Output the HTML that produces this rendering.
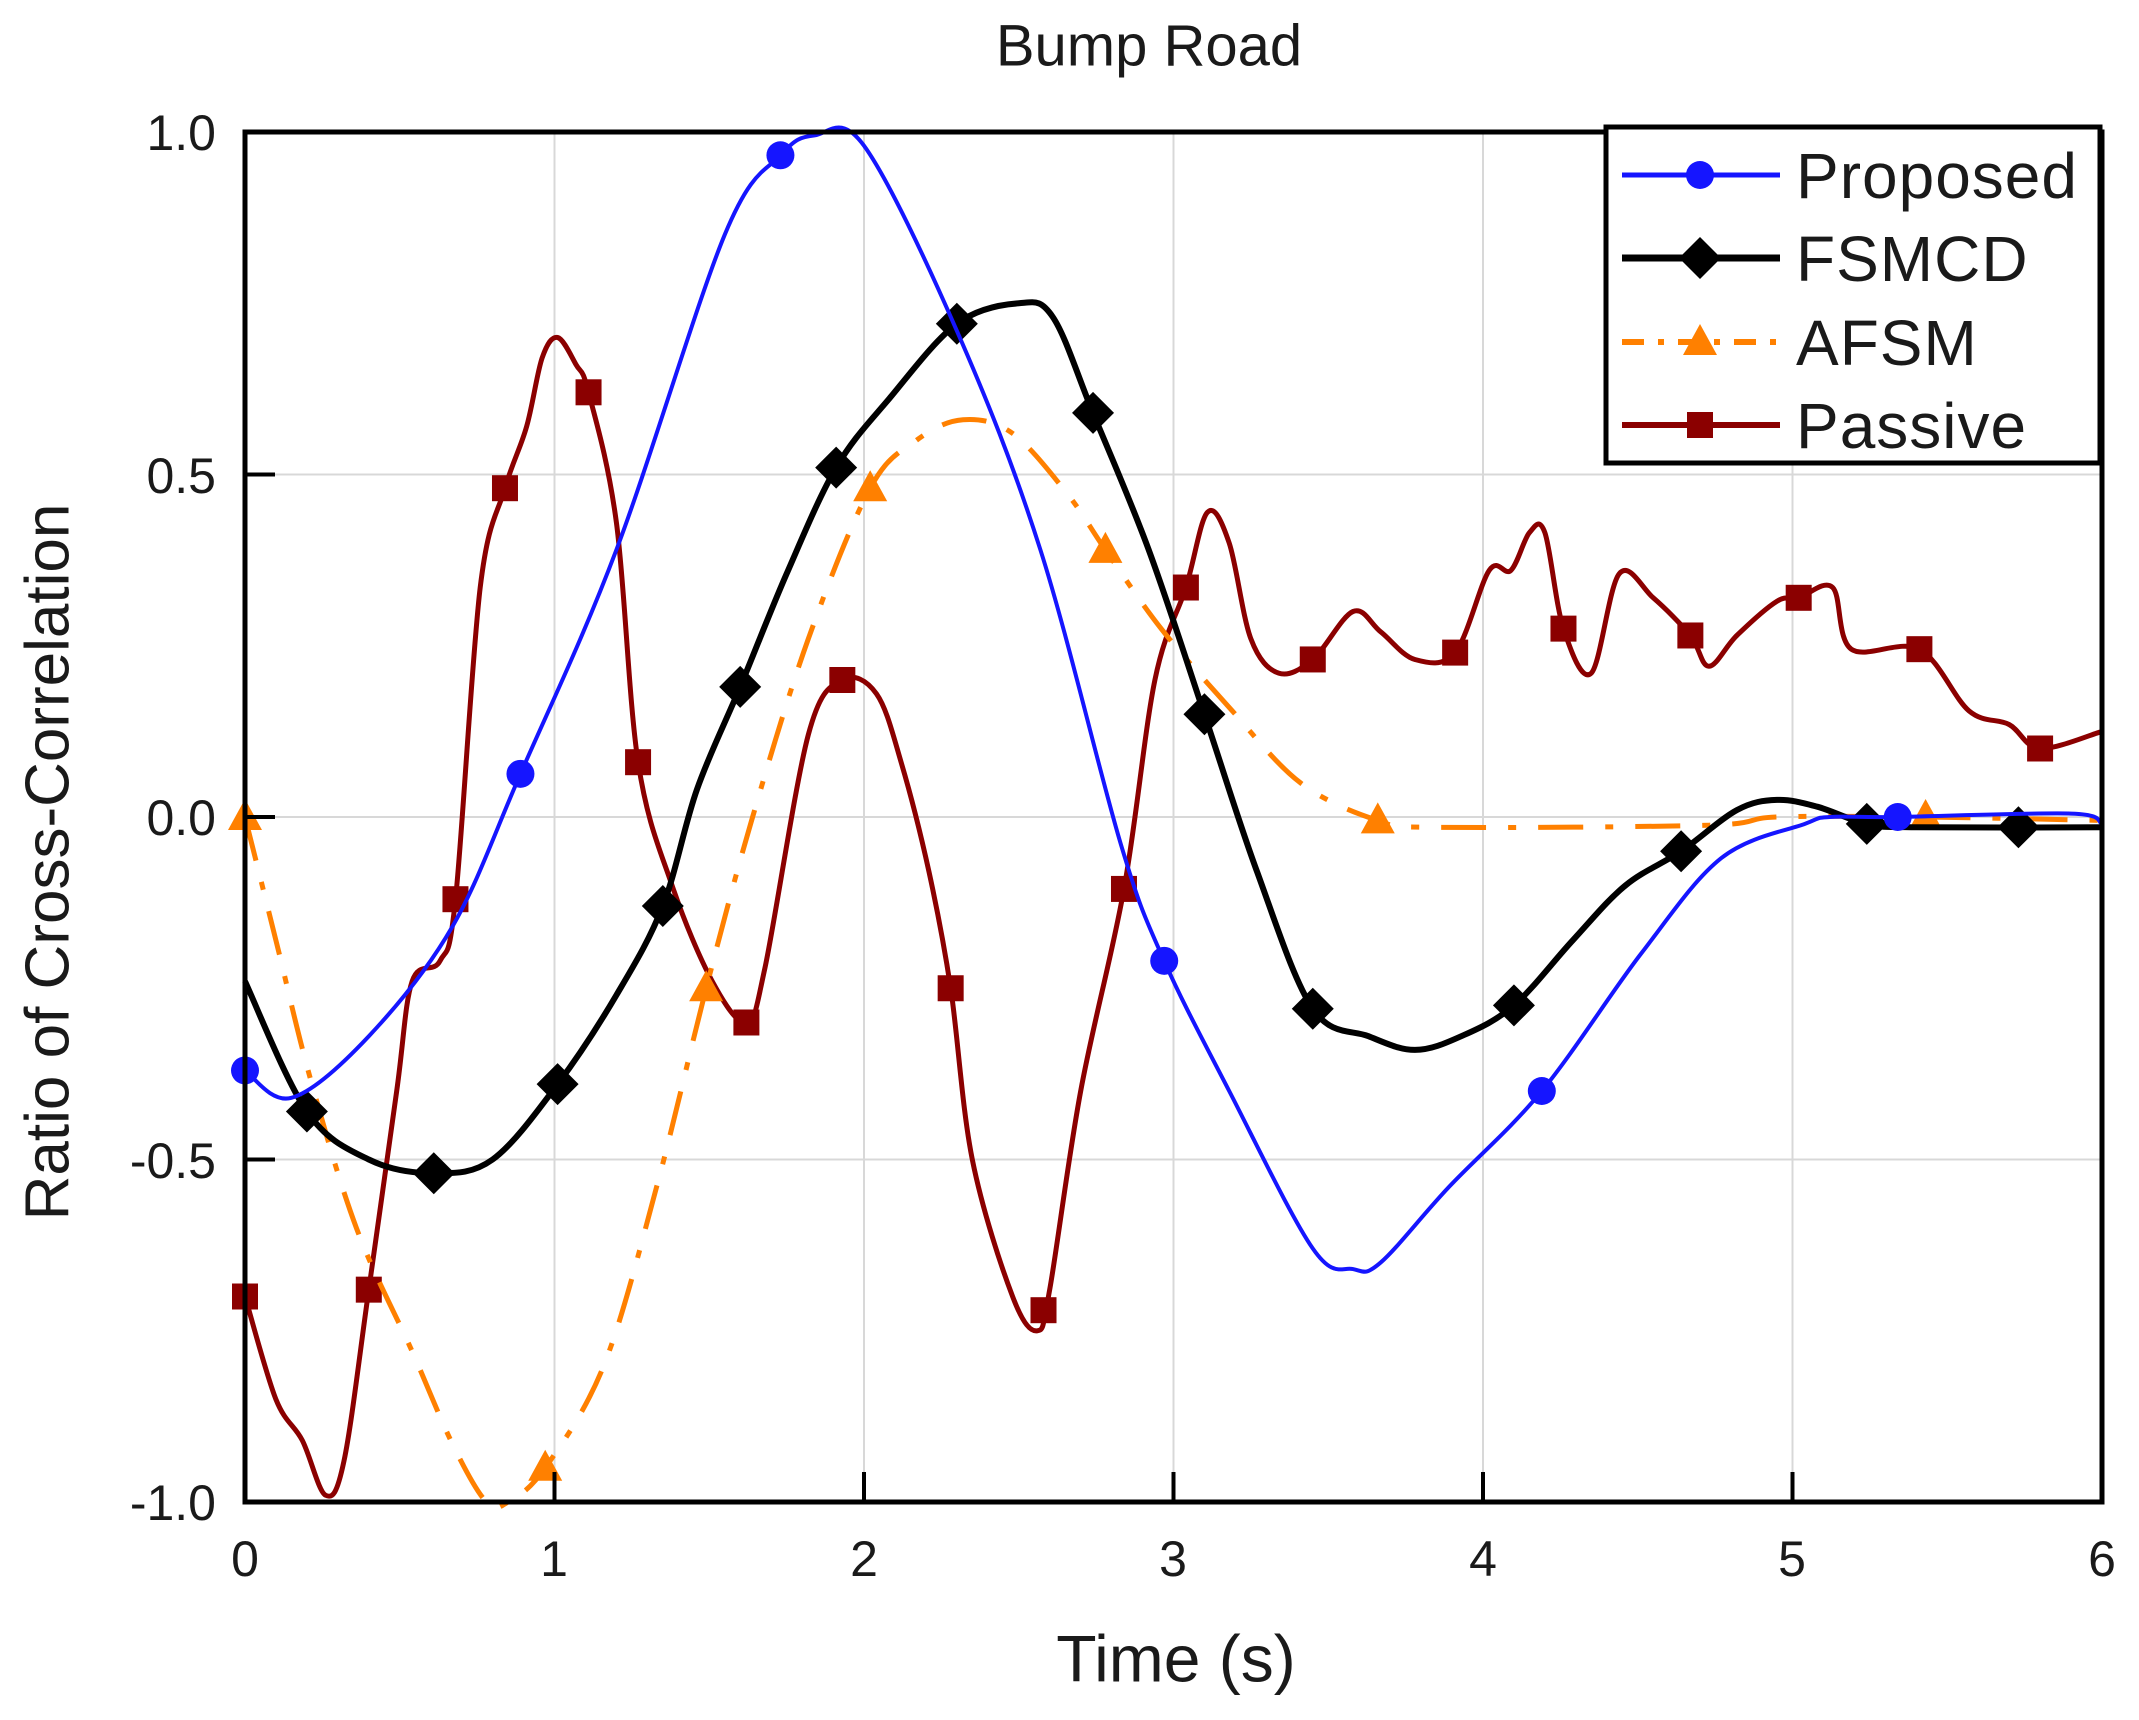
<!DOCTYPE html>
<html><head><meta charset="utf-8"><style>
html,body{margin:0;padding:0;background:#fff;}
svg{display:block;}
text{font-family:"Liberation Sans",Arial,sans-serif;fill:#1a1a1a;}
</style></head><body>
<svg id="c" width="2139" height="1720" viewBox="0 0 2139 1720" xmlns="http://www.w3.org/2000/svg">
<rect width="2139" height="1720" fill="#fff"/>
<g id="grid" stroke="#d8d8d8" stroke-width="2"></g>
<g id="series"></g>
<rect x="245" y="132" width="1857" height="1370" fill="none" stroke="#000" stroke-width="5"/>
<g id="ticks" stroke="#000" stroke-width="4"></g>
<text x="1149" y="50" font-size="58" text-anchor="middle" dominant-baseline="middle">Bump Road</text>
<text x="1176" y="1664" font-size="66" text-anchor="middle" dominant-baseline="middle">Time (s)</text>
<text transform="translate(52,862) rotate(-90)" font-size="62" text-anchor="middle" dominant-baseline="middle">Ratio of Cross-Correlation</text>
<g font-size="50" text-anchor="middle">
<text x="245" y="1576">0</text><text x="554" y="1576">1</text><text x="864" y="1576">2</text><text x="1173" y="1576">3</text><text x="1483" y="1576">4</text><text x="1792" y="1576">5</text><text x="2102" y="1576">6</text>
</g>
<g font-size="50" text-anchor="end">
<text x="216" y="150">1.0</text><text x="216" y="493">0.5</text><text x="216" y="835">0.0</text><text x="216" y="1178">-0.5</text><text x="216" y="1520">-1.0</text>
</g>
<g id="legend">
<rect x="1606" y="127" width="494" height="336" fill="#fff" stroke="#000" stroke-width="5"/>
</g>
</svg>
<script>
var X0=245,X1=2102,Y0=132,Y1=1502;
function px(t){return X0+t*(X1-X0)/6;}
function py(v){return Y0+(1-v)*(Y1-Y0)/2;}
var NS="http://www.w3.org/2000/svg";
function el(tag,attrs,parent){var e=document.createElementNS(NS,tag);for(var k in attrs)e.setAttribute(k,attrs[k]);parent.appendChild(e);return e;}
var grid=document.getElementById('grid'),ticks=document.getElementById('ticks');
for(var i=1;i<6;i++){el('line',{x1:px(i),x2:px(i),y1:Y0,y2:Y1},grid);el('line',{x1:px(i),x2:px(i),y1:Y1,y2:Y1-30},ticks);}
[-0.5,0,0.5].forEach(function(v){el('line',{x1:X0,x2:X1,y1:py(v),y2:py(v)},grid);el('line',{x1:X0,x2:X0+30,y1:py(v),y2:py(v)},ticks);});
function path(pts){
 var P=pts.map(function(p){return [px(p[0]),py(p[1])];});
 var d="M"+P[0][0].toFixed(1)+","+P[0][1].toFixed(1);
 for(var i=0;i<P.length-1;i++){
  var p0=P[i-1]||P[i],p1=P[i],p2=P[i+1],p3=P[i+2]||P[i+1];
  var c1=[p1[0]+(p2[0]-p0[0])/6,p1[1]+(p2[1]-p0[1])/6];
  var c2=[p2[0]-(p3[0]-p1[0])/6,p2[1]-(p3[1]-p1[1])/6];
  d+="C"+c1[0].toFixed(1)+","+c1[1].toFixed(1)+" "+c2[0].toFixed(1)+","+c2[1].toFixed(1)+" "+p2[0].toFixed(1)+","+p2[1].toFixed(1);
 }
 return d;
}
function marker(type,x,y,col,g){
 if(type=='c')el('circle',{cx:x,cy:y,r:14,fill:col},g);
 else if(type=='d')el('polygon',{points:(x)+","+(y-21)+" "+(x+21)+","+y+" "+x+","+(y+21)+" "+(x-21)+","+y,fill:col},g);
 else if(type=='t')el('polygon',{points:x+","+(y-18)+" "+(x+17)+","+(y+13)+" "+(x-17)+","+(y+13),fill:col},g);
 else if(type=='s')el('rect',{x:x-13,y:y-13,width:26,height:26,fill:col},g);
}
function interp(pts,t){for(var i=0;i<pts.length-1;i++){if(t>=pts[i][0]&&t<=pts[i+1][0]){var a=(t-pts[i][0])/(pts[i+1][0]-pts[i][0]);return pts[i][1]+a*(pts[i+1][1]-pts[i][1]);}}return pts[pts.length-1][1];}
var S=[
{col:"#8b0000",w:5,m:'s',dash:null,pts:[[0,-0.70],[0.1,-0.85],[0.185,-0.91],[0.26,-0.99],[0.32,-0.94],[0.4,-0.69],[0.49,-0.40],[0.54,-0.24],[0.63,-0.21],[0.68,-0.12],[0.76,0.335],[0.84,0.48],[0.91,0.57],[0.96,0.67],[1.01,0.70],[1.07,0.66],[1.11,0.62],[1.2,0.43],[1.27,0.08],[1.38,-0.10],[1.51,-0.24],[1.62,-0.30],[1.68,-0.22],[1.82,0.12],[1.93,0.20],[2.04,0.18],[2.12,0.08],[2.21,-0.08],[2.28,-0.25],[2.35,-0.50],[2.48,-0.70],[2.56,-0.75],[2.6,-0.69],[2.7,-0.40],[2.84,-0.105],[2.94,0.2],[3.04,0.335],[3.11,0.445],[3.18,0.40],[3.25,0.26],[3.34,0.21],[3.45,0.23],[3.58,0.30],[3.67,0.27],[3.78,0.23],[3.91,0.24],[4.02,0.36],[4.09,0.36],[4.15,0.415],[4.2,0.415],[4.26,0.275],[4.35,0.21],[4.44,0.355],[4.55,0.32],[4.67,0.265],[4.73,0.22],[4.82,0.265],[4.95,0.315],[5.02,0.32],[5.13,0.335],[5.19,0.245],[5.41,0.245],[5.57,0.155],[5.7,0.135],[5.8,0.10],[6,0.125]],
 mk:[0,0.4,0.68,0.84,1.11,1.27,1.62,1.93,2.28,2.58,2.84,3.04,3.45,3.91,4.26,4.67,5.02,5.41,5.8]},
{col:"#ff8000",w:5,m:'t',dash:"45,22,8,22",pts:[[0,0.0],[0.1,-0.18],[0.21,-0.38],[0.36,-0.6],[0.54,-0.78],[0.67,-0.915],[0.78,-1.0],[0.85,-1.0],[0.97,-0.95],[1.16,-0.8],[1.33,-0.54],[1.49,-0.25],[1.64,0.0],[1.82,0.26],[2.02,0.48],[2.17,0.55],[2.32,0.58],[2.48,0.56],[2.66,0.47],[2.78,0.39],[2.96,0.275],[3.18,0.16],[3.41,0.05],[3.66,-0.005],[3.85,-0.015],[4.73,-0.012],[4.95,0],[5.43,0],[6,-0.005]],
 mk:[0,0.97,1.49,2.02,2.78,3.66,5.43]},
{col:"#000",w:6,m:'d',dash:null,pts:[[0,-0.24],[0.2,-0.43],[0.4,-0.50],[0.61,-0.52],[0.8,-0.50],[1.01,-0.39],[1.2,-0.26],[1.35,-0.13],[1.46,0.04],[1.6,0.19],[1.75,0.355],[1.91,0.51],[2.08,0.61],[2.3,0.72],[2.5,0.75],[2.61,0.73],[2.74,0.59],[2.92,0.39],[3.1,0.15],[3.27,-0.08],[3.45,-0.28],[3.63,-0.32],[3.78,-0.34],[3.93,-0.32],[4.1,-0.275],[4.29,-0.18],[4.46,-0.10],[4.64,-0.05],[4.82,0.01],[4.95,0.025],[5.08,0.015],[5.24,-0.01],[5.4,-0.015],[6,-0.015]],
 mk:[0.2,0.61,1.01,1.35,1.6,1.91,2.3,2.74,3.1,3.45,4.1,4.64,5.24,5.73]},
{col:"#1515ff",w:4,m:'c',dash:null,pts:[[0,-0.37],[0.15,-0.41],[0.4,-0.32],[0.67,-0.16],[0.89,0.063],[1.2,0.39],[1.55,0.85],[1.73,0.966],[1.84,0.995],[2.0,0.98],[2.3,0.71],[2.57,0.39],[2.83,-0.04],[2.97,-0.21],[3.18,-0.40],[3.45,-0.63],[3.58,-0.66],[3.67,-0.65],[3.89,-0.54],[4.19,-0.40],[4.51,-0.20],[4.77,-0.06],[5.04,-0.01],[5.12,0],[5.34,0],[5.9,0.005],[6,-0.01]],
 mk:[0,0.89,1.73,2.97,4.19,5.34]}
];
var g=document.getElementById('series');
S.forEach(function(s){
 var a={d:path(s.pts),fill:"none",stroke:s.col,"stroke-width":s.w,"stroke-linejoin":"round"};
 if(s.dash)a["stroke-dasharray"]=s.dash;
 el('path',a,g);
 s.mk.forEach(function(t){marker(s.m,px(t),py(interp(s.pts,t)),s.col,g);});
});
var L=document.getElementById('legend');
var rows=[["Proposed",175,S[3]],["FSMCD",258,S[2]],["AFSM",342,S[1]],["Passive",425,S[0]]];
rows.forEach(function(r){
 var s=r[2];var a={x1:1622,x2:1780,y1:r[1],y2:r[1],stroke:s.col,"stroke-width":s.w+1};
 if(s.dash)a["stroke-dasharray"]="22,14,6,14";
 el('line',a,L);
 marker(s.m,1700,r[1],s.col,L);
 var t=el('text',{x:1796,y:r[1]+23,"font-size":64,"letter-spacing":"1"},L);t.textContent=r[0];
});
</script>
</body></html>
